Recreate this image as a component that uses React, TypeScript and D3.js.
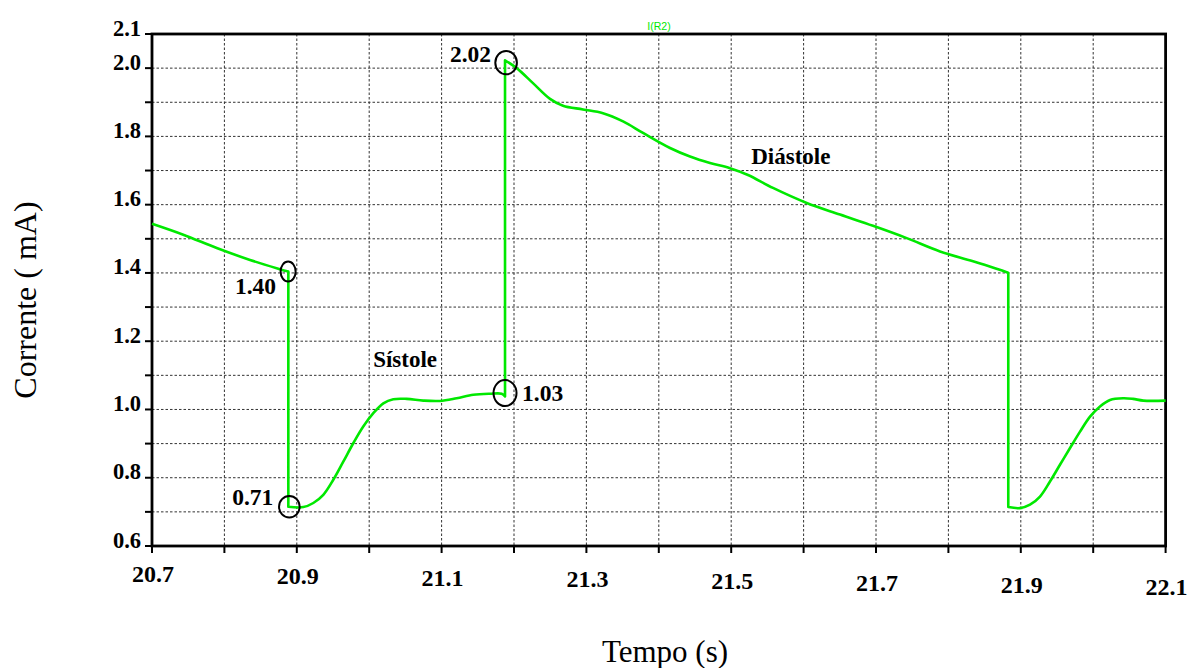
import React from "react";
import * as d3 from "d3";

// Time (s) and current (mA)
const timeS: number[] = [
  20.7, 20.7432, 20.7894, 20.8354, 20.8768, 20.8883,
  20.8883, 20.909, 20.9228, 20.9366, 20.9504, 20.9642, 20.978, 20.9918, 21.0057, 21.0195,
  21.0333, 21.0518, 21.0747, 21.0978, 21.1209, 21.1438, 21.1669, 21.183, 21.1876,
  21.1876, 21.2037, 21.2262, 21.2497, 21.2677, 21.2953, 21.3229, 21.3506, 21.3782, 21.4155,
  21.4431, 21.4707, 21.4983, 21.5232, 21.5577, 21.6043, 21.6503, 21.6959, 21.7424, 21.7884,
  21.834, 21.8805, 21.8827,
  21.8827, 21.8989, 21.9127, 21.9265, 21.9403, 21.9541, 21.968, 21.9818, 21.9956, 22.0094,
  22.0232, 22.0416, 22.055, 22.0692, 22.1,
];
const currentMA: number[] = [
  1.544, 1.512, 1.473, 1.438, 1.411, 1.404,
  0.715, 0.714, 0.726, 0.75, 0.794, 0.847, 0.901, 0.95, 0.989, 1.018,
  1.03, 1.031, 1.026, 1.025, 1.033, 1.043, 1.046, 1.046, 1.038,
  2.023, 2.0, 1.956, 1.91, 1.89, 1.879, 1.868, 1.844, 1.81, 1.766,
  1.741, 1.722, 1.707, 1.687, 1.649, 1.605, 1.571, 1.538, 1.502, 1.463,
  1.434, 1.402, 1.4,
  0.714, 0.711, 0.721, 0.745, 0.789, 0.838, 0.887, 0.935, 0.979, 1.009,
  1.028, 1.033, 1.031, 1.026, 1.026,
];

const xTickValues: number[] = [20.7, 20.8, 20.9, 21.0, 21.1, 21.2, 21.3, 21.4, 21.5, 21.6, 21.7, 21.8, 21.9, 22.0, 22.1];
const xTickLabels: number[] = [20.7, 20.9, 21.1, 21.3, 21.5, 21.7, 21.9, 22.1];
const yTickValues: number[] = [0.6, 0.7, 0.8, 0.9, 1.0, 1.1, 1.2, 1.3, 1.4, 1.5, 1.6, 1.7, 1.8, 1.9, 2.0, 2.1];
const yTickLabels: number[] = [0.6, 0.8, 1.0, 1.2, 1.4, 1.6, 1.8, 2.0, 2.1];

// Marked points
const markT: number[] = [20.888, 20.8897, 21.1876, 21.1891];
const markV: number[] = [1.404, 0.715, 1.048, 2.016];
const markText: string[] = ["1.40", "0.71", "1.03", "2.02"];

const phaseNames: string[] = ["Sístole", "Diástole"];
const phaseT: number[] = [21.0, 21.5];
const phaseV: number[] = [1.125, 1.72];

const W = 1188;
const H = 668;
const L = 152;
const R = 1165.6;
const T = 34;
const B = 546;
const GREEN = "#00e800";
const SERIF = "'Liberation Serif', 'Times New Roman', serif";

export default function App() {
  const x = d3.scaleLinear().domain([20.7, 22.1]).range([L, R]);
  const y = d3.scaleLinear().domain([0.6, 2.1]).range([B, T]);

  const pts: [number, number][] = timeS.map((t, i) => [t, currentMA[i]]);
  // split into smooth pieces at vertical jumps
  const pieces: [number, number][][] = [];
  let cur: [number, number][] = [];
  pts.forEach((p, i) => {
    if (i > 0 && p[0] === pts[i - 1][0]) {
      pieces.push(cur);
      cur = [];
    }
    cur.push(p);
  });
  pieces.push(cur);
  const line = d3
    .line<[number, number]>()
    .x((d) => x(d[0]))
    .y((d) => y(d[1]))
    .curve(d3.curveCatmullRom.alpha(0.5));
  const pathD = pieces
    .map((pc, i) => {
      const s = line(pc) || "";
      return i === 0 ? s : "L" + s.slice(1);
    })
    .join("");

  const labelOffsets: { dx: number; dy: number; anchor: string }[] = [
    { dx: -12, dy: 22, anchor: "end" },
    { dx: -16, dy: -2, anchor: "end" },
    { dx: 17, dy: 8, anchor: "start" },
    { dx: -15, dy: -1, anchor: "end" },
  ];
  const radii: [number, number][] = [
    [7.5, 10],
    [10.3, 10.8],
    [11.5, 13],
    [10.8, 11.7],
  ];

  return (
    <svg
      width={W}
      height={H}
      style={{ position: "absolute", left: 0, top: 0, background: "#fff" }}
    >
      <rect x={0} y={0} width={W} height={H} fill="#fff" />
      {/* grid */}
      {xTickValues.slice(1, -1).map((v) => (
        <line
          key={"gx" + v}
          x1={x(v)}
          x2={x(v)}
          y1={T}
          y2={B}
          stroke="#333"
          strokeWidth={1}
          strokeDasharray="2.5,2"
        />
      ))}
      {yTickValues.slice(1, -1).map((v) => (
        <line
          key={"gy" + v}
          x1={L}
          x2={R}
          y1={y(v)}
          y2={y(v)}
          stroke="#333"
          strokeWidth={1}
          strokeDasharray="2.5,2"
        />
      ))}
      {/* ticks */}
      {yTickValues.map((v) => (
        <line key={"ty" + v} x1={L - 7} x2={L} y1={y(v)} y2={y(v)} stroke="#000" strokeWidth={2} />
      ))}
      {xTickValues.map((v) => (
        <line key={"tx" + v} x1={x(v)} x2={x(v)} y1={B} y2={B + 7} stroke="#000" strokeWidth={2} />
      ))}
      {/* frame */}
      <rect x={L} y={T} width={R - L} height={B - T} fill="none" stroke="#000" strokeWidth={2.8} />
      {/* tick labels */}
      {yTickLabels.map((v) => (
        <text
          key={"ly" + v}
          x={L - 11}
          y={y(v) + 1.5}
          textAnchor="end"
          fontFamily={SERIF}
          fontWeight="bold"
          fontSize={22.5}
          fill="#000"
        >
          {v.toFixed(1)}
        </text>
      ))}
      {xTickLabels.map((v, i) => (
        <text
          key={"lx" + v}
          x={x(v) + 1}
          y={582 + i * 1.8}
          textAnchor="middle"
          fontFamily={SERIF}
          fontWeight="bold"
          fontSize={24}
          fill="#000"
        >
          {v.toFixed(1)}
        </text>
      ))}
      {/* series name */}
      <text
        x={659}
        y={30}
        textAnchor="middle"
        fontFamily="'Liberation Sans', Arial, sans-serif"
        fontSize={10.5}
        fill={GREEN}
      >
        I(R2)
      </text>
      {/* trace */}
      <path d={pathD} fill="none" stroke={GREEN} strokeWidth={2.6} strokeLinejoin="round" />
      {/* marks */}
      {markT.map((t, i) => (
        <g key={"m" + i}>
          <ellipse
            cx={x(t)}
            cy={y(markV[i])}
            rx={radii[i][0]}
            ry={radii[i][1]}
            fill="none"
            stroke="#000"
            strokeWidth={2}
          />
          <text
            x={x(t) + labelOffsets[i].dx}
            y={y(markV[i]) + labelOffsets[i].dy}
            textAnchor={labelOffsets[i].anchor as any}
            fontFamily={SERIF}
            fontWeight="bold"
            fontSize={23.5}
            fill="#000"
          >
            {markText[i]}
          </text>
        </g>
      ))}
      {phaseNames.map((n, i) => (
        <text
          key={"p" + n}
          x={x(phaseT[i]) + (i === 0 ? 4 : 20)}
          y={y(phaseV[i])}
          fontFamily={SERIF}
          fontWeight="bold"
          fontSize={23}
          fill="#000"
        >
          {n}
        </text>
      ))}
      {/* axis titles */}
      <text
        x={665}
        y={662}
        textAnchor="middle"
        fontFamily={SERIF}
        fontSize={31}
        fill="#000"
      >
        Tempo (s)
      </text>
      <text
        transform="translate(36,300) rotate(-90)"
        textAnchor="middle"
        fontFamily={SERIF}
        fontSize={32}
        fill="#000"
      >
        Corrente ( mA)
      </text>
    </svg>
  );
}
